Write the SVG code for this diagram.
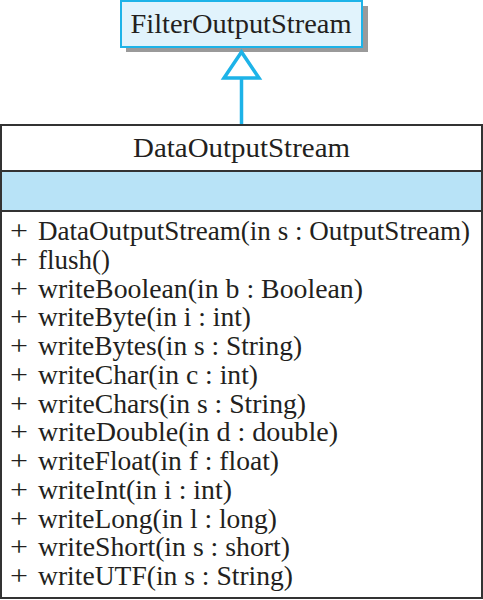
<svg xmlns="http://www.w3.org/2000/svg" width="483" height="600" viewBox="0 0 483 600">
<style>
text{font-family:"Liberation Serif","Times New Roman",serif;fill:#231f20}
.t{font-size:28px;text-anchor:middle}
.m{font-size:27px}
</style>
<rect width="483" height="600" fill="#fff"/>
<g id="FilterOutputStream">
<rect x="126" y="6" width="242" height="46" fill="#9a9a9a"/>
<rect x="121" y="1" width="241" height="46" fill="#e1f3fc" stroke="#1db3e8" stroke-width="2"/>
<text class="t" x="241" y="33" textLength="221" lengthAdjust="spacingAndGlyphs">FilterOutputStream</text>
</g>
<g id="connectors">
<line x1="241.5" y1="79" x2="241.5" y2="125" stroke="#1db3e8" stroke-width="3.5"/>
<polygon points="241.5,52 224,78 259,78" fill="#fff" stroke="#1db3e8" stroke-width="3.5"/>
</g>
<g id="DataOutputStream">
<rect x="1" y="125" width="481" height="473" fill="#fff" stroke="#333" stroke-width="2"/>
<rect x="1" y="171" width="481" height="40" fill="#b8e3f7" stroke="#333" stroke-width="2"/>
<text class="t" x="241.5" y="157" textLength="217" lengthAdjust="spacingAndGlyphs">DataOutputStream</text>
<g class="m">
<text x="10" y="240" textLength="18" lengthAdjust="spacingAndGlyphs">+</text><text x="38" y="240" textLength="432" lengthAdjust="spacingAndGlyphs">DataOutputStream(in s : OutputStream)</text>
<text x="10" y="269" textLength="18" lengthAdjust="spacingAndGlyphs">+</text><text x="38" y="269" textLength="72" lengthAdjust="spacingAndGlyphs">flush()</text>
<text x="10" y="298" textLength="18" lengthAdjust="spacingAndGlyphs">+</text><text x="38" y="298" textLength="325" lengthAdjust="spacingAndGlyphs">writeBoolean(in b : Boolean)</text>
<text x="10" y="326" textLength="18" lengthAdjust="spacingAndGlyphs">+</text><text x="38" y="326" textLength="213" lengthAdjust="spacingAndGlyphs">writeByte(in i : int)</text>
<text x="10" y="355" textLength="18" lengthAdjust="spacingAndGlyphs">+</text><text x="38" y="355" textLength="264" lengthAdjust="spacingAndGlyphs">writeBytes(in s : String)</text>
<text x="10" y="384" textLength="18" lengthAdjust="spacingAndGlyphs">+</text><text x="38" y="384" textLength="220" lengthAdjust="spacingAndGlyphs">writeChar(in c : int)</text>
<text x="10" y="413" textLength="18" lengthAdjust="spacingAndGlyphs">+</text><text x="38" y="413" textLength="268" lengthAdjust="spacingAndGlyphs">writeChars(in s : String)</text>
<text x="10" y="441" textLength="18" lengthAdjust="spacingAndGlyphs">+</text><text x="38" y="441" textLength="300" lengthAdjust="spacingAndGlyphs">writeDouble(in d : double)</text>
<text x="10" y="470" textLength="18" lengthAdjust="spacingAndGlyphs">+</text><text x="38" y="470" textLength="241" lengthAdjust="spacingAndGlyphs">writeFloat(in f : float)</text>
<text x="10" y="499" textLength="18" lengthAdjust="spacingAndGlyphs">+</text><text x="38" y="499" textLength="194" lengthAdjust="spacingAndGlyphs">writeInt(in i : int)</text>
<text x="10" y="528" textLength="18" lengthAdjust="spacingAndGlyphs">+</text><text x="38" y="528" textLength="239" lengthAdjust="spacingAndGlyphs">writeLong(in l : long)</text>
<text x="10" y="556" textLength="18" lengthAdjust="spacingAndGlyphs">+</text><text x="38" y="556" textLength="252" lengthAdjust="spacingAndGlyphs">writeShort(in s : short)</text>
<text x="10" y="585" textLength="18" lengthAdjust="spacingAndGlyphs">+</text><text x="38" y="585" textLength="255" lengthAdjust="spacingAndGlyphs">writeUTF(in s : String)</text>
</g>
</g>
</svg>
